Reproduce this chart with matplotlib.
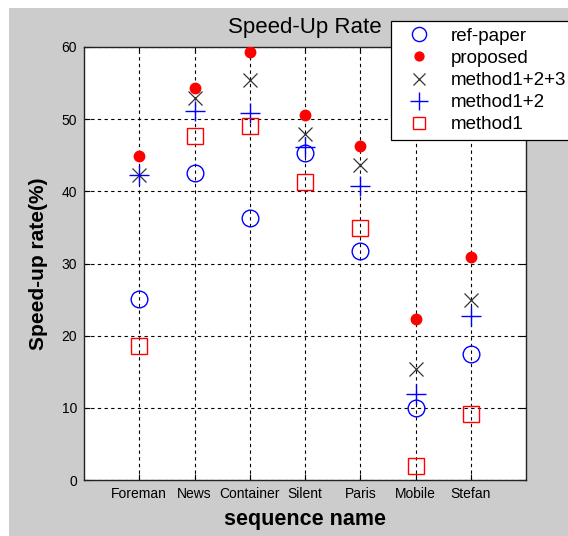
import numpy as np
import matplotlib
matplotlib.use("Agg")
import matplotlib.pyplot as plt
from matplotlib.patches import Rectangle

# Data
sequences = ['Foreman', 'News', 'Container', 'Silent', 'Paris', 'Mobile', 'Stefan']
ref_paper = [25.1, 42.5, 36.3, 45.3, 31.8, 10.0, 17.4]
proposed = [44.9, 54.3, 59.3, 50.6, 46.3, 22.3, 30.9]
method123 = [42.2, 53.0, 55.4, 47.9, 43.7, 15.4, 24.9]
method12 = [42.2, 51.2, 50.8, 46.1, 40.7, 11.9, 22.7]
method1 = [18.6, 47.6, 49.1, 41.3, 34.9, 1.9, 9.1]

plt.rcParams['font.family'] = ['Liberation Sans', 'DejaVu Sans']

fig = plt.figure(figsize=(5.68, 5.36), dpi=100, facecolor='white')
# gray MATLAB-style figure background, white strip on top and left
fig.patches.append(Rectangle((9 / 568, 0), 1, 528 / 536, transform=fig.transFigure,
                             facecolor='#cccccc', edgecolor='none', zorder=-10))

ax = fig.add_axes([84 / 568, 1 - 480 / 536, (526 - 84) / 568, (480 - 47) / 536])
ax.set_facecolor('white')

x = np.arange(1, len(sequences) + 1)

ax.plot(x, ref_paper, linestyle='none', marker='o', ms=12, mfc='none', mec='blue', mew=1.0,
        label='ref-paper', zorder=3)
ax.plot(x, proposed, linestyle='none', marker='o', ms=7.5, mfc='red', mec='red',
        label='proposed', zorder=4)
ax.plot(x, method123, linestyle='none', marker='x', ms=10, mec='#333333', mew=0.9,
        label='method1+2+3', zorder=3)
ax.plot(x, method12, linestyle='none', marker='+', ms=15, mec='blue', mew=1.0,
        label='method1+2', zorder=3)
ax.plot(x, method1, linestyle='none', marker='s', ms=11, mfc='none', mec='red', mew=1.0,
        label='method1', zorder=3)

ax.set_xlim(0, 8)
ax.set_ylim(0, 60)
ax.set_xticks(x)
ax.set_xticklabels(sequences)
ax.set_yticks(np.arange(0, 61, 10))
ax.tick_params(direction='in', length=4, labelsize=10, top=True, right=True, pad=5)
ax.grid(True, color='black', linestyle=(0, (3, 3)), linewidth=0.8)
ax.set_axisbelow(True)
for s in ax.spines.values():
    s.set_color('#222222')
    s.set_linewidth(1.0)

ax.set_xlabel('sequence name', fontsize=15.5, fontweight='bold', labelpad=6)
ax.set_ylabel('Speed-up rate(%)', fontsize=15, fontweight='bold', labelpad=10)
fig.text(305 / 568, 1 - 27 / 536, 'Speed-Up Rate', fontsize=16, ha='center', va='center')

leg = fig.legend(loc='upper left', bbox_to_anchor=(391 / 568, 1 - 21 / 536),
                 bbox_transform=fig.transFigure, fontsize=13.5, fancybox=False,
                 edgecolor='black', framealpha=1, borderpad=0.35, labelspacing=0.27,
                 handlelength=2.3, handletextpad=0.55, borderaxespad=0, markerscale=0.85)
leg.get_frame().set_linewidth(0.9)

fig.savefig('out.png', dpi=100, facecolor=fig.get_facecolor())
